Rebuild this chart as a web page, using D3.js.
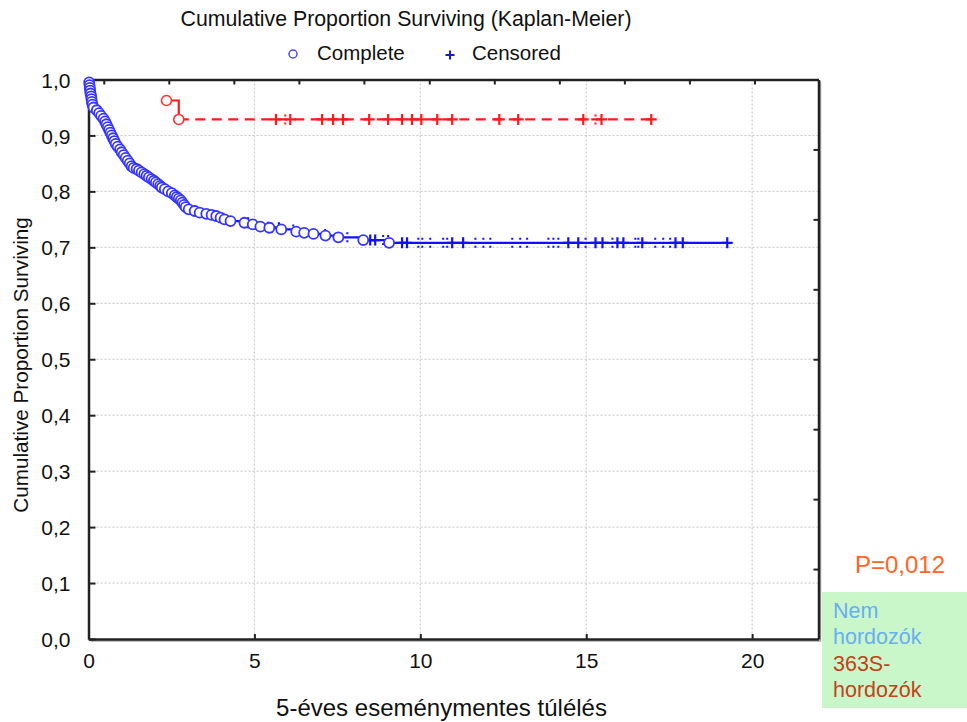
<!DOCTYPE html>
<html><head><meta charset="utf-8">
<script src="https://cdn.jsdelivr.net/npm/d3@7"></script>
<style>
html,body{margin:0;padding:0;background:#fff;}
svg{display:block;font-family:"Liberation Sans",Arial,sans-serif;}
</style></head>
<body>
<svg id="chart" width="967" height="722"></svg>
<script>
// ---- data ----
const xDomain = [0, 22];
const yDomain = [0, 1];
const xTickValues = [0, 5, 10, 15, 20];
const yTickValues = [0, 0.1, 0.2, 0.3, 0.4, 0.5, 0.6, 0.7, 0.8, 0.9, 1.0];
const topTickValues = [0.46, 2.42, 4.38, 6.34, 8.30, 10.27, 12.23, 14.19, 16.15, 18.11, 20.07];
const rightTickValues = [0.125, 0.25, 0.375, 0.5, 0.625, 0.75, 0.875];

// Nem hordozók (blue) – events (complete)
const blueEventTimes = [0.02,0.03,0.04,0.05,0.06,0.08,0.09,0.10,0.12,0.15,0.25,0.32,0.38,0.45,0.50,0.54,0.58,0.62,0.66,0.70,0.74,0.78,0.82,0.88,0.95,1.00,1.06,1.12,1.18,1.24,1.30,1.36,1.45,1.52,1.60,1.68,1.75,1.82,1.90,1.97,2.03,2.10,2.16,2.21,2.30,2.40,2.51,2.60,2.66,2.72,2.78,2.83,2.88,2.93,3.02,3.20,3.35,3.55,3.71,3.85,3.98,4.10,4.28,4.70,4.95,5.18,5.45,5.81,6.26,6.50,6.78,7.14,7.53,8.28,9.06];
const blueEventSurv  = [0.995,0.99,0.985,0.98,0.975,0.97,0.965,0.96,0.955,0.95,0.945,0.94,0.935,0.93,0.925,0.92,0.915,0.91,0.905,0.90,0.895,0.89,0.885,0.88,0.875,0.87,0.865,0.86,0.855,0.85,0.845,0.842,0.840,0.837,0.834,0.831,0.828,0.825,0.822,0.819,0.816,0.813,0.810,0.807,0.804,0.800,0.797,0.793,0.790,0.787,0.784,0.780,0.776,0.772,0.768,0.765,0.762,0.760,0.758,0.756,0.753,0.750,0.747,0.744,0.741,0.737,0.735,0.732,0.728,0.726,0.724,0.721,0.718,0.713,0.708];
const blueCensorTimes = [4.81,5.74,8.49,8.64,9.45,9.60,10.96,11.29,14.46,14.76,15.28,15.49,15.94,16.12,16.69,17.69,17.91,19.25];
const blueCensorSmallTimes = [5.02,5.41,5.53,6.17,7.13,7.80,8.88,9.03,9.94,10.06,10.30,10.69,10.81,11.66,11.90,12.11,12.77,13.01,13.22,13.86,14.01,14.16,14.98,15.79,16.48,16.57,17.08,17.32,17.53];

// 363S-hordozók (red)
const redEventTimes = [2.35, 2.72];
const redEventSurv  = [0.9625, 0.9286];
const redCensorTimes = [5.65,6.08,7.04,7.37,7.67,8.46,9.03,9.45,9.75,10.03,10.51,10.96,12.38,12.95,14.91,15.46,16.96];
const redCensorSmallTimes = [5.93, 15.28];

const titleText = "Cumulative Proportion Surviving (Kaplan-Meier)";
const legendLabels = ["Complete", "Censored"];
const xLabel = "5-éves eseménymentes túlélés";
const yLabel = "Cumulative Proportion Surviving";
const pText = "P=0,012";
const boxLines = [["Nem","#6aaef2"],["hordozók","#6aaef2"],["363S-","#c4421a"],["hordozók","#c4421a"]];

// ---- drawing ----
const svg = d3.select("#chart");
const L = 88.5, R = 818.5, T = 79.5, B = 639;
const x = d3.scaleLinear().domain(xDomain).range([L, R]);
const y = d3.scaleLinear().domain(yDomain).range([B, T]);
const fmtY = v => d3.format(".1f")(v).replace(".", ",");

// grid
const grid = svg.append("g").attr("stroke", "#c4c4c4").attr("stroke-width", 1).attr("stroke-dasharray", "2,2");
grid.selectAll("line.v").data(xTickValues.filter(v => v > 0)).join("line")
  .attr("x1", d => x(d)).attr("x2", d => x(d)).attr("y1", T).attr("y2", B);
grid.selectAll("line.h").data(yTickValues.filter(v => v > 0 && v < 1)).join("line")
  .attr("class","h").attr("x1", L).attr("x2", R).attr("y1", d => y(d)).attr("y2", d => y(d));

// shadow + frame
svg.append("path").attr("d", `M${R+2},${T+2}V${B+2}H${L+2}`).attr("fill","none").attr("stroke","#aaa").attr("stroke-width",1.5);

// axes (ticks inward)
const axB = d3.axisBottom(x).tickValues(xTickValues).tickSizeInner(-5).tickSizeOuter(0).tickPadding(14).tickFormat(d3.format("d"));
const gB = svg.append("g").attr("transform", `translate(0,${B})`).call(axB);
const axL = d3.axisLeft(y).tickValues(yTickValues).tickSizeInner(-7).tickSizeOuter(0).tickPadding(18).tickFormat(fmtY);
const gL = svg.append("g").attr("transform", `translate(${L},0)`).call(axL);
const axT = d3.axisTop(x).tickValues(topTickValues).tickSizeInner(-5).tickSizeOuter(0).tickFormat("");
const gT = svg.append("g").attr("transform", `translate(0,${T})`).call(axT);
const axR = d3.axisRight(y).tickValues(rightTickValues).tickSizeInner(-5).tickSizeOuter(0).tickFormat("");
const gR = svg.append("g").attr("transform", `translate(${R},0)`).call(axR);
[gB, gL, gT, gR].forEach(g => {
  g.select(".domain").attr("stroke", "#222").attr("stroke-width", 2.5);
  g.selectAll(".tick line").attr("stroke", "#222").attr("stroke-width", 2);
  g.selectAll(".tick text").attr("fill", "#111").attr("font-size", "21px").attr("font-family", '"Liberation Sans",Arial,sans-serif');
});
gL.selectAll(".tick text").attr("dy", "0.36em");

// KM step path builder
function stepPath(times, surv, startT, startS, endT) {
  const p = d3.path();
  let curS = startS;
  p.moveTo(x(startT), y(startS));
  times.forEach((t, i) => {
    p.lineTo(x(t), y(curS));
    p.lineTo(x(t), y(surv[i]));
    curS = surv[i];
  });
  p.lineTo(x(endT), y(curS));
  return p.toString();
}
function survAt(times, surv, startS, t) {
  let s = startS;
  times.forEach((tt, i) => { if (tt <= t) s = surv[i]; });
  return s;
}
function plus(g, cx, cy, h, color, w) {
  g.append("path").attr("d", `M${cx-h},${cy}H${cx+h}M${cx},${cy-h}V${cy+h}`)
    .attr("stroke", color).attr("stroke-width", w).attr("fill", "none");
}
function smallMark(g, cx, cy, color) {
  g.append("line").attr("x1", cx).attr("x2", cx).attr("y1", cy - 5).attr("y2", cy + 5)
    .attr("stroke", color).attr("stroke-width", 2).attr("stroke-dasharray", "2,6");
}

// blue series
const blueColor = "#1010ff";
const gBlue = svg.append("g");
gBlue.append("path").attr("d", stepPath(blueEventTimes, blueEventSurv, 0, 1, d3.max(blueCensorTimes)))
  .attr("fill", "none").attr("stroke", blueColor).attr("stroke-width", 2.3);
blueCensorSmallTimes.forEach(t => smallMark(gBlue, x(t), y(survAt(blueEventTimes, blueEventSurv, 1, t)), blueColor));
blueCensorTimes.forEach(t => plus(gBlue, x(t), y(survAt(blueEventTimes, blueEventSurv, 1, t)), 5.5, blueColor, 2.2));
gBlue.selectAll("circle").data(blueEventTimes).join("circle")
  .attr("cx", d => x(d)).attr("cy", (d, i) => y(blueEventSurv[i])).attr("r", 5)
  .attr("fill", "#fff").attr("stroke", "#3535ff").attr("stroke-width", 1.8);

// red series
const redColor = "#ff1a1a";
const gRed = svg.append("g");
const redEnd = d3.max(redCensorTimes);
gRed.append("path").attr("d", stepPath(redEventTimes.slice(1), redEventSurv.slice(1), redEventTimes[0], redEventSurv[0], redEventTimes[1]))
  .attr("fill","none").attr("stroke", redColor).attr("stroke-width", 2.2);
gRed.append("line").attr("x1", x(redEventTimes[1])).attr("x2", x(redEnd))
  .attr("y1", y(redEventSurv[1])).attr("y2", y(redEventSurv[1]))
  .attr("stroke", redColor).attr("stroke-width", 2.2).attr("stroke-dasharray", "10,6.5");
redCensorSmallTimes.forEach(t => smallMark(gRed, x(t), y(survAt(redEventTimes, redEventSurv, 1, t)), redColor));
redCensorTimes.forEach(t => plus(gRed, x(t), y(survAt(redEventTimes, redEventSurv, 1, t)), 5.5, redColor, 2.2));
gRed.selectAll("circle").data(redEventTimes).join("circle")
  .attr("cx", d => x(d)).attr("cy", (d, i) => y(redEventSurv[i])).attr("r", 5)
  .attr("fill", "#fff").attr("stroke", "#ff3030").attr("stroke-width", 1.6);

// title + legend
svg.append("text").attr("x", 406).attr("y", 26).attr("text-anchor", "middle")
  .attr("font-size", "21.3px").attr("fill", "#111").text(titleText);
svg.append("circle").attr("cx", 293).attr("cy", 54).attr("r", 4).attr("fill", "none").attr("stroke", "#4a4aff").attr("stroke-width", 1.5);
svg.append("text").attr("x", 317).attr("y", 60).attr("font-size", "20.5px").attr("fill", "#111").text(legendLabels[0]);
plus(svg, 450, 55, 4.5, "#1a1acc", 2);
svg.append("text").attr("x", 472).attr("y", 60).attr("font-size", "20.5px").attr("fill", "#111").text(legendLabels[1]);

// axis titles
svg.append("text").attr("x", (L + R) / 2 - 12).attr("y", 716).attr("text-anchor", "middle")
  .attr("font-size", "24px").attr("fill", "#111").text(xLabel);
svg.append("text").attr("transform", "translate(28,365) rotate(-90)").attr("text-anchor", "middle")
  .attr("font-size", "20.7px").attr("fill", "#111").text(yLabel);

// annotations
svg.append("text").attr("x", 900).attr("y", 573).attr("text-anchor", "middle")
  .attr("font-size", "24px").attr("fill", "#ff6422").text(pText);
svg.append("rect").attr("x", 822).attr("y", 592).attr("width", 145).attr("height", 116).attr("fill", "#c9f7c9");
boxLines.forEach((d, i) => {
  svg.append("text").attr("x", 833).attr("y", 618 + i * 26.4).attr("font-size", "21.5px").attr("fill", d[1]).text(d[0]);
});
</script>
</body></html>
